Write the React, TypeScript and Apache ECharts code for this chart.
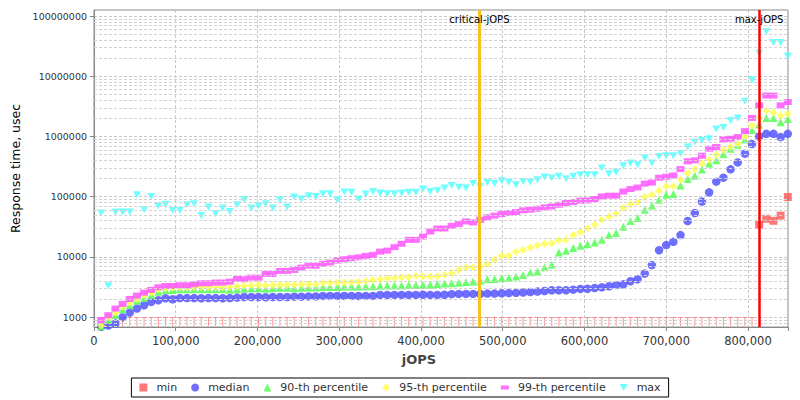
import { useEffect, useRef } from 'react';
import * as echarts from 'echarts';

// jOPS steps (x)
const jops = [
  8750, 17500, 26250, 35000, 43750, 52500, 61250, 70000, 78750, 87500,
  96250, 105000, 113750, 122500, 131250, 140000, 148750, 157500, 166250, 175000,
  183750, 192500, 201250, 210000, 218750, 227500, 236250, 245000, 253750, 262500,
  271250, 280000, 288750, 297500, 306250, 315000, 323750, 332500, 341250, 350000,
  358750, 367500, 376250, 385000, 393750, 402500, 411250, 420000, 428750, 437500,
  446250, 455000, 463750, 472500, 481250, 490000, 498750, 507500, 516250, 525000,
  533750, 542500, 551250, 560000, 568750, 577500, 586250, 595000, 603750, 612500,
  621250, 630000, 638750, 647500, 656250, 665000, 673750, 682500, 691250, 700000,
  708750, 717500, 726250, 735000, 743750, 752500, 761250, 770000, 778750, 787500,
  796250, 805000, 813750, 822500, 831250, 840000, 848750,
];

const minRt = [
  1000, 1000, 1000, 1000, 1000, 1000, 1000, 1000, 1000, 1000,
  1000, 1000, 1000, 1000, 1000, 1000, 1000, 1000, 1000, 1000,
  1000, 1000, 1000, 1000, 1000, 1000, 1000, 1000, 1000, 1000,
  1000, 1000, 1000, 1000, 1000, 1000, 1000, 1000, 1000, 1000,
  1000, 1000, 1000, 1000, 1000, 1000, 1000, 1000, 1000, 1000,
  1000, 1000, 1000, 1000, 1000, 1000, 1000, 1000, 1000, 1000,
  1000, 1000, 1000, 1000, 1000, 1000, 1000, 1000, 1000, 1000,
  1000, 1000, 1000, 1000, 1000, 1000, 1000, 1000, 1000, 1000,
  1000, 1000, 1000, 1000, 1000, 1000, 1000, 1000, 1000, 1000,
  1000, 1000, 34000, 43000, 39800, 48500, 99000,
];

const medianRt = [
  690, 720, 780, 990, 1180, 1380, 1570, 1780, 1900, 2050,
  1970, 2060, 2060, 2060, 2050, 2060, 2060, 2050, 2060, 2100,
  2150, 2150, 2150, 2130, 2150, 2150, 2150, 2180, 2180, 2200,
  2200, 2240, 2240, 2240, 2240, 2240, 2230, 2240, 2240, 2330,
  2330, 2330, 2330, 2330, 2330, 2340, 2330, 2330, 2340, 2400,
  2420, 2420, 2420, 2420, 2450, 2450, 2480, 2500, 2520, 2560,
  2600, 2650, 2700, 2780, 2780, 2790, 2850, 2930, 2950, 3040,
  3120, 3240, 3410, 3500, 3930, 4250, 5270, 7290, 12900, 15700,
  17800, 23000, 39400, 53400, 83000, 118000, 178000, 207000, 285000, 372000,
  520000, 750000, 1000000, 1110000, 1110000, 980000, 1110000,
];

const p90Rt = [
  700, 890, 1080, 1340, 1580, 1870, 2070, 2330, 2640, 2820,
  2820, 2900, 2880, 2900, 2900, 2880, 2900, 2900, 2850, 2900,
  2950, 3000, 3000, 2950, 3000, 3050, 3050, 3000, 3050, 3100,
  3100, 3150, 3150, 3150, 3200, 3200, 3200, 3250, 3250, 3300,
  3350, 3350, 3350, 3400, 3400, 3400, 3450, 3550, 3600, 3640,
  3700, 3830, 3900, 4000, 4250, 4300, 4420, 4500, 4700, 5000,
  5540, 5700, 6700, 7360, 11800, 12600, 14000, 15300, 16200, 17300,
  19200, 23000, 24800, 31800, 39300, 44300, 60600, 71300, 89000, 108000,
  111000, 153000, 197000, 224000, 282000, 355000, 402000, 515000, 626000, 730000,
  890000, 1290000, 1580000, 2040000, 2040000, 1730000, 1950000,
];

const p95Rt = [
  720, 1010, 1180, 1480, 1730, 1990, 2330, 2540, 2890, 3000,
  3050, 3120, 3100, 3120, 3150, 3120, 3150, 3120, 3150, 3200,
  3300, 3350, 3400, 3350, 3400, 3450, 3450, 3450, 3500, 3500,
  3550, 3700, 3700, 3750, 3750, 3800, 3850, 3950, 4100, 4250,
  4400, 4420, 4580, 4580, 4820, 4700, 4700, 4700, 5000, 5340,
  6060, 6700, 6700, 6880, 7560, 8920, 10400, 10400, 12200, 13000,
  14300, 15400, 16500, 16800, 18700, 19200, 23000, 25800, 30000, 34300,
  41400, 46900, 52000, 64900, 75000, 81000, 98500, 108000, 126000, 149000,
  149000, 192000, 248000, 288000, 355000, 412000, 500000, 600000, 670000, 760000,
  990000, 1520000, 2040000, 2720000, 2520000, 2220000, 2400000,
];

const p99Rt = [
  890, 1070, 1380, 1650, 1990, 2270, 2540, 2820, 3120, 3280,
  3280, 3370, 3370, 3500, 3640, 3640, 3740, 3740, 3880, 4300,
  4250, 4520, 4520, 5200, 5200, 5840, 5840, 6060, 6630, 7160,
  7100, 7650, 8050, 8670, 9120, 9500, 9830, 10400, 10800, 12200,
  12700, 14500, 16500, 19200, 19200, 21800, 26300, 29600, 29600, 32800,
  35000, 38800, 37200, 41400, 45400, 48400, 51600, 53600, 55700, 59300,
  60700, 63100, 66500, 68900, 73400, 78500, 81500, 85700, 86800, 91300,
  101000, 104000, 104000, 122000, 134000, 142000, 165000, 172000, 207000, 215000,
  225000, 288000, 387000, 402000, 480000, 627000, 670000, 890000, 920000, 980000,
  1230000, 2040000, 3300000, 4800000, 4800000, 3300000, 3750000,
];

const maxRt = [
  53400, 3300, 55700, 55700, 55700, 108000, 60700, 101000, 70600, 75000,
  59000, 59000, 73400, 76200, 48500, 67200, 52000, 65000, 57000, 73400,
  89000, 65000, 70600, 76200, 65000, 89000, 67200, 99000, 91300, 104000,
  101000, 112000, 112000, 89000, 120000, 118000, 91300, 111000, 122000, 115000,
  112000, 112000, 115000, 118000, 118000, 134000, 122000, 127000, 139000, 153000,
  143000, 139000, 165000, 149000, 172000, 165000, 184000, 176000, 158000, 179000,
  176000, 192000, 212000, 204000, 218000, 199000, 218000, 232000, 232000, 232000,
  300000, 240000, 254000, 326000, 362000, 340000, 438000, 362000, 467000, 480000,
  480000, 520000, 670000, 810000, 870000, 920000, 1330000, 1420000, 1850000, 2040000,
  3850000, 8700000, 24500000, 55800000, 36700000, 36700000, 21800000,
];

const criticalJops = 471500;
const maxJops = 813750;

const xMax = 849000;
const yMin = 682;
const yMax = 127000000;
const decades = [100, 1000, 10000, 100000, 1000000, 10000000];

const downTri = 'path://M0,0L10,0L5,9Z';
const tMark = 'path://M0,0H5V1H3V9H2V1H0Z';
const flatRect = 'path://M0,0H10V5H0Z';

const App = () => {
  const chartRef = useRef<HTMLDivElement>(null);

  useEffect(() => {
    if (!chartRef.current) return;
    document.body.style.margin = '0';

    const chart = echarts.init(chartRef.current, undefined, { renderer: 'svg' });

    const pairs = (vals: number[]) => jops.map((x, i) => [x, vals[i]]);

    const minData = jops.map((x, i) =>
      minRt[i] <= 1000
        ? {
            value: [x, minRt[i]],
            symbol: tMark,
            symbolSize: [5, 9],
            symbolOffset: [0, 4.5],
            itemStyle: { color: '#ff7070', opacity: 0.75 },
          }
        : { value: [x, minRt[i]] }
    );

    // minor log grid lines (2..9 x decade)
    const minorLines: { yAxis: number }[] = [];
    decades.forEach((d) => {
      for (let k = 2; k <= 9; k++) {
        const v = k * d;
        if (v > yMin && v < yMax) minorLines.push({ yAxis: v });
      }
    });

    const gridColor = '#c8c8c8';

    const option = {
      animation: false,
      backgroundColor: '#fff',
      textStyle: { fontFamily: 'DejaVu Sans' },
      grid: {
        left: 94,
        right: 12,
        top: 10,
        bottom: 73,
        show: true,
        borderColor: '#888',
        borderWidth: 1,
        backgroundColor: '#fff',
      },
      legend: {
        bottom: 3,
        left: 'center',
        orient: 'horizontal',
        borderColor: '#000',
        borderWidth: 1,
        padding: [4, 8],
        itemWidth: 8,
        itemHeight: 8,
        itemGap: 14,
        textStyle: { fontSize: 11, color: '#333', padding: [0, 0, 0, 4] },
        data: [
          { name: 'min', icon: 'rect' },
          { name: 'median', icon: 'circle' },
          { name: '90-th percentile', icon: 'triangle' },
          { name: '95-th percentile', icon: 'diamond' },
          { name: '99-th percentile', icon: flatRect },
          { name: 'max', icon: downTri },
        ],
      },
      xAxis: {
        type: 'value',
        min: 0,
        max: xMax,
        interval: 100000,
        name: 'jOPS',
        nameLocation: 'middle',
        nameGap: 26,
        nameTextStyle: { fontSize: 13, fontWeight: 'bold', color: '#444', padding: [0, 44, 0, 0] },
        axisLine: { show: true, lineStyle: { color: '#888' } },
        axisTick: { show: true, length: 4, lineStyle: { color: '#888' } },
        axisLabel: {
          fontSize: 11.5,
          color: '#333',
          margin: 8,
          formatter: (v: number) => (v % 100000 === 0 ? v.toLocaleString('en-US') : ''),
        },
        splitLine: { show: true, lineStyle: { color: gridColor, type: [3, 2] } },
      },
      yAxis: {
        type: 'log',
        logBase: 10,
        min: yMin,
        max: yMax,
        name: 'Response time, usec',
        nameLocation: 'middle',
        nameGap: 70,
        nameTextStyle: { fontSize: 12.5, color: '#000' },
        axisLine: { show: true, lineStyle: { color: '#888' } },
        axisTick: { show: true, length: 4, lineStyle: { color: '#888' } },
        axisLabel: {
          fontSize: 9.5,
          color: '#333',
          margin: 7,
          showMinLabel: false,
          showMaxLabel: false,
          formatter: (v: number) => {
            const l = Math.log10(v);
            return Math.abs(l - Math.round(l)) < 1e-6 ? String(Math.round(v)) : '';
          },
        },
        splitLine: { show: true, lineStyle: { color: gridColor, type: [3, 2] } },
      },
      series: [
        {
          name: 'minor-grid',
          type: 'scatter',
          data: [],
          silent: true,
          z: 1,
          markLine: {
            silent: true,
            symbol: 'none',
            label: { show: false },
            lineStyle: { color: '#d2d2d2', type: [3, 2], width: 1 },
            data: minorLines,
          },
        },
        {
          name: 'min',
          type: 'scatter',
          symbol: 'rect',
          symbolSize: 8,
          itemStyle: { color: '#ff5555', opacity: 0.8 },
          data: minData,
          z: 3,
        },
        {
          name: 'median',
          type: 'scatter',
          symbol: 'circle',
          symbolSize: 8.5,
          itemStyle: { color: '#5555ff', opacity: 0.85 },
          data: pairs(medianRt),
          z: 3,
        },
        {
          name: '90-th percentile',
          type: 'scatter',
          symbol: 'triangle',
          symbolSize: [8, 8],
          itemStyle: { color: '#55ff55', opacity: 0.85 },
          data: pairs(p90Rt),
          z: 3,
        },
        {
          name: '95-th percentile',
          type: 'scatter',
          symbol: 'diamond',
          symbolSize: 8,
          itemStyle: { color: '#ffff55', opacity: 0.85 },
          data: pairs(p95Rt),
          z: 3,
        },
        {
          name: '99-th percentile',
          type: 'scatter',
          symbol: 'rect',
          symbolSize: [8, 6],
          itemStyle: { color: '#ff55ff', opacity: 0.85 },
          data: pairs(p99Rt),
          z: 3,
        },
        {
          name: 'max',
          type: 'scatter',
          symbol: downTri,
          symbolSize: [8, 7],
          itemStyle: { color: '#55ffff', opacity: 0.85 },
          data: pairs(maxRt),
          z: 3,
        },
        {
          name: 'markers',
          type: 'scatter',
          data: [],
          silent: true,
          z: 5,
          markLine: {
            silent: true,
            symbol: 'none',
            label: {
              show: true,
              position: 'end',
              distance: -14,
              fontSize: 10,
              color: '#000',
              formatter: (p: { name: string }) => p.name,
            },
            data: [
              { name: 'critical-jOPS', xAxis: criticalJops, lineStyle: { color: '#f8c020', width: 3, type: 'solid' } },
              { name: 'max-jOPS', xAxis: maxJops, lineStyle: { color: '#ff0000', width: 2.5, type: 'solid' } },
            ],
          },
        },
      ],
    };

    chart.setOption(option);

    return () => {
      chart.dispose();
    };
  }, []);

  return <div ref={chartRef} style={{ width: '800px', height: '400px' }} />;
};

export default App;
